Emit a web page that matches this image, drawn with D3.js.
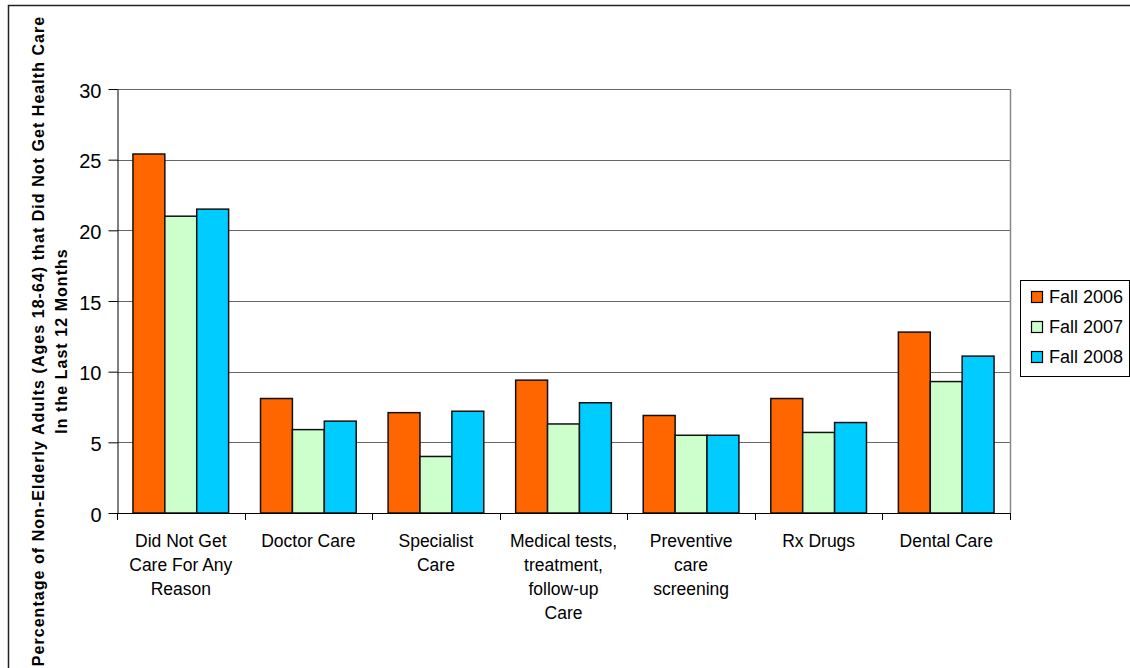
<!DOCTYPE html>
<html>
<head>
<meta charset="utf-8">
<script src="https://cdn.jsdelivr.net/npm/d3@7"></script>
<style>
  body { margin: 0; background: #fff; }
  svg text { font-family: Arial, "Liberation Sans", sans-serif; fill: #000; }
</style>
</head>
<body>
<div id="chart"></div>
<script>
// chart data
var categories = ["Did Not Get Care For Any Reason", "Doctor Care", "Specialist Care",
  "Medical tests, treatment, follow-up Care", "Preventive care screening", "Rx Drugs", "Dental Care"];
var categoryLines = [
  ["Did Not Get", "Care For Any", "Reason"],
  ["Doctor Care"],
  ["Specialist", "Care"],
  ["Medical tests,", "treatment,", "follow-up", "Care"],
  ["Preventive", "care", "screening"],
  ["Rx Drugs"],
  ["Dental Care"]
];
var seriesNames = ["Fall 2006", "Fall 2007", "Fall 2008"];
var fall2006 = [25.4, 8.1, 7.1, 9.4, 6.9, 8.1, 12.8];
var fall2007 = [21.0, 5.9, 4.0, 6.3, 5.5, 5.7, 9.3];
var fall2008 = [21.5, 6.5, 7.2, 7.8, 5.5, 6.4, 11.1];
var yTicks = [0, 5, 10, 15, 20, 25, 30];
var colors = ["#FF6600", "#CCFFCC", "#00CCFF"];

var series = [fall2006, fall2007, fall2008];

var width = 1130, height = 668;
var plotLeft = 117, plotRight = 1010, plotTop = 89, plotBottom = 513;

var svg = d3.select("#chart").append("svg")
  .attr("width", width)
  .attr("height", height);

// outer chart border
svg.append("rect")
  .attr("x", 8.5).attr("y", 5.5)
  .attr("width", 1200).attr("height", 800)
  .attr("fill", "none").attr("stroke", "#222").attr("stroke-width", 1.5);

var x = d3.scaleBand()
  .domain(categories)
  .range([plotLeft, plotRight])
  .paddingInner(0.25)
  .paddingOuter(0.125);

var xs = d3.scaleBand()
  .domain(seriesNames)
  .range([0, x.bandwidth()]);

var y = d3.scaleLinear().domain([0, 30]).range([plotBottom, plotTop]);

// gridlines
svg.append("g").selectAll("line")
  .data(yTicks.filter(function(d) { return d > 0; }))
  .enter().append("line")
  .attr("x1", plotLeft).attr("x2", plotRight)
  .attr("y1", function(d) { return Math.round(y(d)) + 0.5; })
  .attr("y2", function(d) { return Math.round(y(d)) + 0.5; })
  .attr("stroke", "#666").attr("stroke-width", 1.2);

// plot area right border
svg.append("line")
  .attr("x1", plotRight + 0.5).attr("x2", plotRight + 0.5)
  .attr("y1", plotTop).attr("y2", plotBottom)
  .attr("stroke", "#888").attr("stroke-width", 1.5);

// bars
var groups = svg.append("g").selectAll("g")
  .data(categories)
  .enter().append("g")
  .attr("transform", function(d) { return "translate(" + x(d) + ",0)"; });

groups.selectAll("rect")
  .data(function(d, i) {
    return series.map(function(s, j) { return { key: seriesNames[j], value: s[i], idx: j }; });
  })
  .enter().append("rect")
  .attr("x", function(d) { return xs(d.key); })
  .attr("y", function(d) { return y(d.value); })
  .attr("width", xs.bandwidth())
  .attr("height", function(d) { return plotBottom - y(d.value); })
  .attr("fill", function(d) { return colors[d.idx]; })
  .attr("stroke", "#111")
  .attr("stroke-width", 1.5);

// y axis
var yAxis = svg.append("g")
  .attr("transform", "translate(" + (plotLeft + 0.5) + ",0)")
  .call(d3.axisLeft(y).tickValues(yTicks).tickSize(9).tickSizeOuter(0).tickPadding(7));
yAxis.select(".domain").attr("stroke", "#000");
yAxis.selectAll(".tick line").attr("stroke", "#000");
yAxis.selectAll("text")
  .style("font-size", "20px")
  .attr("dy", "0.4em");

// x axis line + ticks at band edges
var edges = categories.map(function(c) { return x(c) - x.step() * x.paddingInner() / 2; });
edges.push(plotRight);
svg.append("line")
  .attr("x1", plotLeft).attr("x2", plotRight)
  .attr("y1", plotBottom + 0.5).attr("y2", plotBottom + 0.5)
  .attr("stroke", "#000").attr("stroke-width", 1.2);
svg.append("g").selectAll("line")
  .data(edges)
  .enter().append("line")
  .attr("x1", function(d) { return Math.round(d) + 0.5; })
  .attr("x2", function(d) { return Math.round(d) + 0.5; })
  .attr("y1", plotBottom).attr("y2", plotBottom + 7)
  .attr("stroke", "#000");

// category labels
var labels = svg.append("g").selectAll("text")
  .data(categories)
  .enter().append("text")
  .attr("text-anchor", "middle")
  .style("font-size", "17.5px")
  .attr("transform", function(d) { return "translate(" + (x(d) + x.bandwidth() / 2) + ",547)"; });
labels.selectAll("tspan")
  .data(function(d, i) { return categoryLines[i]; })
  .enter().append("tspan")
  .attr("x", 0)
  .attr("y", function(d, i) { return i * 24; })
  .text(function(d) { return d; });

// y axis title
var title = svg.append("text")
  .attr("transform", "translate(44,341) rotate(-90)")
  .attr("text-anchor", "middle")
  .style("font-size", "16px")
  .style("letter-spacing", "1.05px")
  .style("font-weight", "bold");
title.append("tspan").attr("x", 0).attr("y", 0)
  .text("Percentage of Non-Elderly Adults (Ages 18-64) that Did Not Get Health Care");
title.append("tspan").attr("x", 0).attr("y", 23)
  .text("In the Last 12 Months");

// legend
var legend = svg.append("g");
legend.append("rect")
  .attr("x", 1020.5).attr("y", 280.5)
  .attr("width", 109).attr("height", 96)
  .attr("fill", "#fff").attr("stroke", "#000");
var items = legend.selectAll("g.item")
  .data(seriesNames)
  .enter().append("g")
  .attr("class", "item")
  .attr("transform", function(d, i) { return "translate(1031," + (297 + i * 30) + ")"; });
items.append("rect")
  .attr("x", 0.5).attr("y", -5.5)
  .attr("width", 11).attr("height", 11)
  .attr("fill", function(d, i) { return colors[i]; })
  .attr("stroke", "#000").attr("stroke-width", 1.2);
items.append("text")
  .attr("x", 18).attr("y", 6)
  .style("font-size", "18px")
  .text(function(d) { return d; });
</script>
</body>
</html>
